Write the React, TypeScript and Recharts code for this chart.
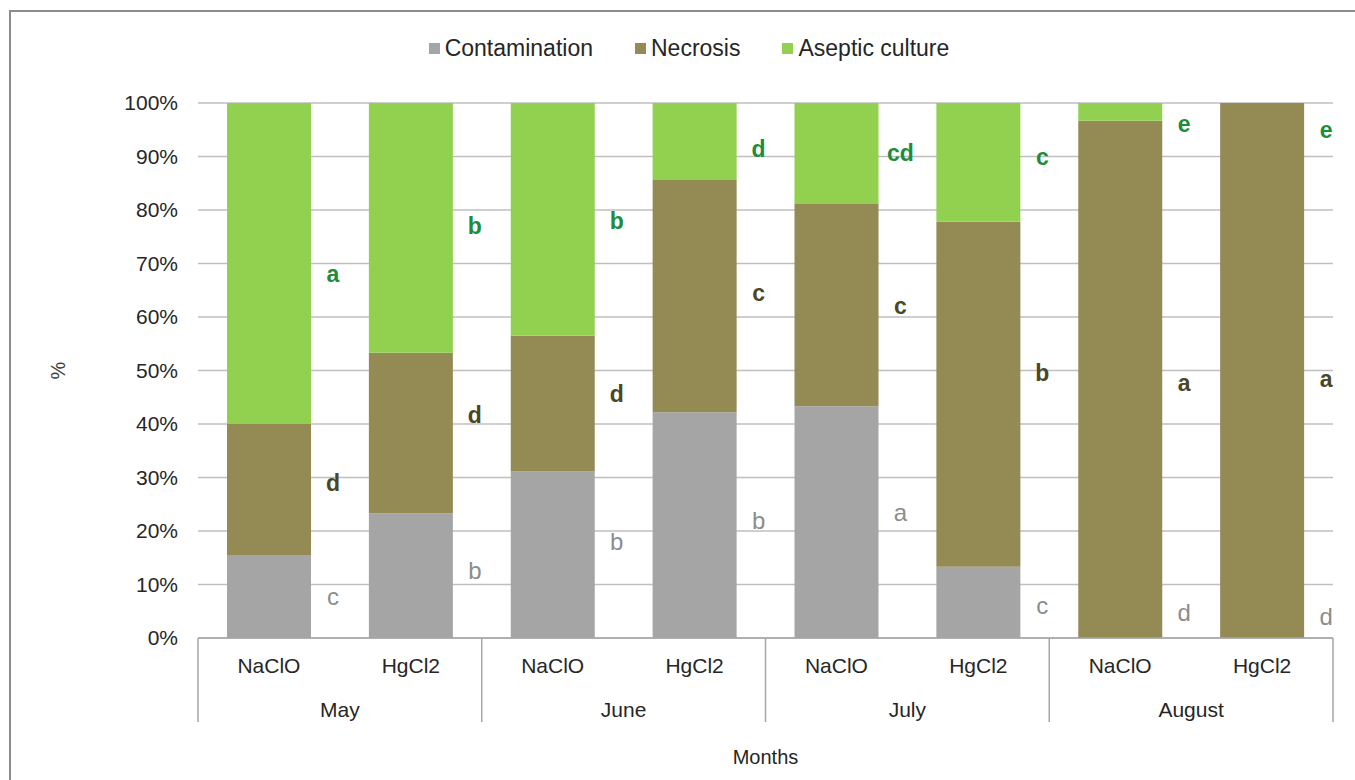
import { ComposedChart, Bar, Scatter, XAxis, YAxis, CartesianGrid, Label } from 'recharts'

const months = ['May', 'June', 'July', 'August']
const treatments = ['NaClO', 'HgCl2', 'NaClO', 'HgCl2', 'NaClO', 'HgCl2', 'NaClO', 'HgCl2']

const contamination = [15.5, 23.3, 31.1, 42.2, 43.3, 13.3, 0, 0]
const necrosis = [24.5, 30.0, 25.4, 43.4, 37.8, 64.5, 96.7, 100]
const aseptic = [60.0, 46.7, 43.5, 14.4, 18.9, 22.2, 3.3, 0]

// significance letters and the height (%) where each one sits
const contLetters = ['c', 'b', 'b', 'b', 'a', 'c', 'd', 'd']
const contLetterAt = [7.7, 12.7, 18, 22, 23.5, 6, 4.7, 4]
const necLetters = ['d', 'd', 'd', 'c', 'c', 'b', 'a', 'a']
const necLetterAt = [29, 41.7, 45.6, 64.5, 62, 49.5, 47.7, 48.4]
const asepLetters = ['a', 'b', 'b', 'd', 'cd', 'c', 'e', 'e']
const asepLetterAt = [68, 77, 78, 91.4, 90.6, 90, 96, 95]

const yTicks = [0, 10, 20, 30, 40, 50, 60, 70, 80, 90, 100]

const series = [
  { key: 'contamination', name: 'Contamination', color: '#a5a5a5' },
  { key: 'necrosis', name: 'Necrosis', color: '#948a54' },
  { key: 'aseptic', name: 'Aseptic culture', color: '#92d050' },
]

const data = treatments.map((t, i) => ({
  id: `${months[Math.floor(i / 2)]}-${t}`,
  treat: t,
  month: months[Math.floor(i / 2)],
  contamination: contamination[i],
  necrosis: necrosis[i],
  aseptic: aseptic[i],
  cL: contLetters[i],
  cY: contLetterAt[i],
  nL: necLetters[i],
  nY: necLetterAt[i],
  aL: asepLetters[i],
  aY: asepLetterAt[i],
}))

const W = 1355
const H = 780
const M = { top: 103, right: 22, left: 0, bottom: 0 }
const Y_W = 198
const X_H = 142
const CAT_W = (W - M.left - M.right - Y_W) / data.length
const FONT = '"Liberation Sans", Arial, sans-serif'

const letterShape = (letterKey: string, color: string, bold: boolean) => (props: any) => {
  const { cx, cy, payload } = props
  return (
    <text
      x={cx + 64}
      y={cy}
      textAnchor="middle"
      dominantBaseline="central"
      fontFamily={FONT}
      fontSize={bold ? 23 : 24}
      fontWeight={bold ? 'bold' : 'normal'}
      fill={color}
    >
      {payload[letterKey]}
    </text>
  )
}

const XTick = (props: any) => {
  const { x, y, payload } = props
  const i = payload.index
  const d = data[i]
  return (
    <g>
      <text x={x} y={y + 35} textAnchor="middle" fontFamily={FONT} fontSize={21} fill="#262626">
        {d.treat}
      </text>
      {i % 2 === 0 && (
        <>
          <line x1={x - CAT_W / 2} y1={y} x2={x - CAT_W / 2} y2={y + 84} stroke="#a6a6a6" strokeWidth={1.5} />
          <text x={x + CAT_W / 2} y={y + 79} textAnchor="middle" fontFamily={FONT} fontSize={21} fill="#262626">
            {d.month}
          </text>
        </>
      )}
      {i === data.length - 1 && (
        <line x1={x + CAT_W / 2} y1={y} x2={x + CAT_W / 2} y2={y + 84} stroke="#a6a6a6" strokeWidth={1.5} />
      )}
    </g>
  )
}

export default function App() {
  return (
    <div style={{ position: 'absolute', left: 0, top: 0, width: W, height: H, overflow: 'hidden', background: '#fff' }}>
      <div
        style={{
          position: 'absolute',
          left: 9,
          top: 10,
          width: W + 20,
          height: H + 20,
          border: '2px solid #8c8c8c',
          boxSizing: 'border-box',
        }}
      />
      <div
        style={{
          position: 'absolute',
          top: 35,
          left: 689 - 400,
          width: 800,
          display: 'flex',
          justifyContent: 'center',
          gap: 42,
          fontFamily: FONT,
          fontSize: 23,
          lineHeight: '27px',
          color: '#262626',
        }}
      >
        {series.map(s => (
          <span key={s.key} style={{ display: 'flex', alignItems: 'center' }}>
            <span style={{ width: 11, height: 11, background: s.color, marginRight: 5, display: 'inline-block' }} />
            {s.name}
          </span>
        ))}
      </div>
      <ComposedChart width={W} height={H} data={data} margin={M} style={{ position: 'absolute', left: 0, top: 0 }}>
        <CartesianGrid vertical={false} stroke="#bfbfbf" strokeWidth={1.5} />
        <YAxis
          type="number"
          domain={[0, 100]}
          ticks={yTicks}
          width={Y_W}
          axisLine={false}
          tickLine={false}
          tickMargin={14}
          tickFormatter={v => `${v}%`}
          tick={{ fontFamily: FONT, fontSize: 21, fill: '#262626' }}
        >
          <Label
            content={(p: any) => (
              <text
                x={58}
                y={p.viewBox.y + p.viewBox.height / 2}
                transform={`rotate(-90 58 ${p.viewBox.y + p.viewBox.height / 2})`}
                textAnchor="middle"
                dominantBaseline="central"
                fontFamily={FONT}
                fontSize={20}
                fill="#404040"
              >
                %
              </text>
            )}
          />
        </YAxis>
        <XAxis
          dataKey="id"
          height={X_H}
          stroke="#a6a6a6"
          strokeWidth={1.5}
          tickLine={false}
          tickSize={0}
          tickMargin={0}
          interval={0}
          tick={<XTick />}
        >
          <Label
            content={(p: any) => (
              <text
                x={p.viewBox.x + p.viewBox.width / 2}
                y={757}
                textAnchor="middle"
                dominantBaseline="central"
                fontFamily={FONT}
                fontSize={20}
                fill="#262626"
              >
                Months
              </text>
            )}
          />
        </XAxis>
        {series.map(s => (
          <Bar key={s.key} dataKey={s.key} name={s.name} stackId="a" fill={s.color} barSize={84} isAnimationActive={false} />
        ))}
        <Scatter dataKey="cY" legendType="none" isAnimationActive={false} shape={letterShape('cL', '#8c8c8c', false)} />
        <Scatter dataKey="nY" legendType="none" isAnimationActive={false} shape={letterShape('nL', '#4a4626', true)} />
        <Scatter dataKey="aY" legendType="none" isAnimationActive={false} shape={letterShape('aL', '#1e8c3a', true)} />
      </ComposedChart>
    </div>
  )
}
